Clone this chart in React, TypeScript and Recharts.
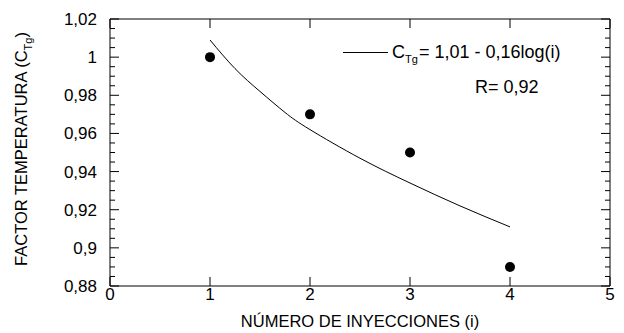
import React from "react";
import {
  ComposedChart,
  Line,
  Scatter,
  XAxis,
  YAxis,
} from "recharts";

// measured points: factor vs number of injections
const injections = [1, 2, 3, 4];
const factor = [1.0, 0.97, 0.95, 0.89];

// fitted curve C_Tg = 1,01 - 0,16 log(i)
const fitX = [1, 1.25, 1.5, 1.75, 2, 2.5, 3, 3.5, 4];
const fitY = [1.009, 0.994, 0.982, 0.971, 0.962, 0.947, 0.934, 0.922, 0.911];

const xTicks = [0, 1, 2, 3, 4, 5];
const yTicks = [
  0.88, 0.885, 0.89, 0.895, 0.9, 0.905, 0.91, 0.915, 0.92, 0.925, 0.93, 0.935,
  0.94, 0.945, 0.95, 0.955, 0.96, 0.965, 0.97, 0.975, 0.98, 0.985, 0.99, 0.995,
  1, 1.005, 1.01, 1.015, 1.02,
];

const FONT = '"Liberation Sans", Arial, sans-serif';
const MAJOR = 9;
const MINOR = 5;

const points = injections.map((x, i) => ({ x, y: factor[i] }));
const fit = fitX.map((x, i) => ({ x, y: fitY[i] }));

const isMajor = (v: number) => Math.round(v * 1000) % 20 === 0;
const fmt = (v: number) => String(v).replace(".", ",");

function LeftTick({ x, y, payload }: any) {
  const v = payload.value;
  const major = isMajor(v);
  return (
    <g>
      <line x1={x} x2={x + (major ? MAJOR : MINOR)} y1={y} y2={y} stroke="#000" />
      {major && (
        <text x={x - 13} y={y + 6} textAnchor="end" fontSize={17} fontFamily={FONT} fill="#000">
          {fmt(v)}
        </text>
      )}
    </g>
  );
}

function RightTick({ x, y, payload }: any) {
  const major = isMajor(payload.value);
  return <line x1={x} x2={x - (major ? MAJOR : MINOR)} y1={y} y2={y} stroke="#000" />;
}

function BottomTick({ x, y, payload }: any) {
  return (
    <g>
      <line x1={x} x2={x} y1={y} y2={y - MAJOR} stroke="#000" />
      <text x={x} y={y + 14} textAnchor="middle" fontSize={17} fontFamily={FONT} fill="#000">
        {payload.value}
      </text>
    </g>
  );
}

function TopTick({ x, y }: any) {
  return <line x1={x} x2={x} y1={y} y2={y + MAJOR} stroke="#000" />;
}

export default function App() {
  return (
    <div style={{ position: "absolute", left: 0, top: 0, width: 624, height: 333, background: "#fff" }}>
      <ComposedChart
        width={624}
        height={333}
        data={fit}
        margin={{ top: 18, right: 13, bottom: 46, left: 109 }}
      >
        <XAxis
          xAxisId="bottom"
          dataKey="x"
          type="number"
          domain={[0, 5]}
          ticks={xTicks}
          interval={0}
          height={1}
          tickSize={0}
          tickMargin={0}
          tickLine={false}
          axisLine={{ stroke: "#000" }}
          tick={<BottomTick />}
        />
        <XAxis
          xAxisId="top"
          orientation="top"
          dataKey="x"
          type="number"
          domain={[0, 5]}
          ticks={xTicks}
          interval={0}
          height={1}
          tickSize={0}
          tickMargin={0}
          tickLine={false}
          axisLine={{ stroke: "#000" }}
          tick={<TopTick />}
        />
        <YAxis
          yAxisId="left"
          type="number"
          domain={[0.88, 1.02]}
          ticks={yTicks}
          interval={0}
          width={1}
          tickSize={0}
          tickMargin={0}
          tickLine={false}
          allowDataOverflow
          axisLine={{ stroke: "#000" }}
          tick={<LeftTick />}
        />
        <YAxis
          yAxisId="right"
          orientation="right"
          type="number"
          domain={[0.88, 1.02]}
          ticks={yTicks}
          interval={0}
          width={1}
          tickSize={0}
          tickMargin={0}
          tickLine={false}
          allowDataOverflow
          axisLine={{ stroke: "#000" }}
          tick={<RightTick />}
        />
        <Line
          xAxisId="bottom"
          yAxisId="left"
          dataKey="y"
          type="natural"
          stroke="#000"
          strokeWidth={1}
          dot={false}
          isAnimationActive={false}
        />
        <Scatter
          xAxisId="bottom"
          yAxisId="left"
          data={points}
          dataKey="y"
          fill="#000"
          shape={(p: any) => <circle cx={p.cx} cy={p.cy} r={5} fill="#000" />}
          isAnimationActive={false}
        />
      </ComposedChart>
      <svg
        width={624}
        height={333}
        style={{ position: "absolute", left: 0, top: 0, pointerEvents: "none" }}
        fontFamily={FONT}
        fill="#000"
      >
        <line x1={343} x2={388} y1={52.5} y2={52.5} stroke="#000" />
        <text x={392} y={58} fontSize={18}>C</text>
        <text x={405} y={63} fontSize={11}>Tg</text>
        <text x={419} y={58} fontSize={18}>= 1,01 - 0,16log(i)</text>
        <text x={475} y={93} fontSize={18}>R= 0,92</text>
        <text x={360} y={327} fontSize={16.5} textAnchor="middle">
          NÚMERO DE INYECCIONES (i)
        </text>
        <text
          transform="translate(27,149) rotate(-90)"
          fontSize={16.5}
          textAnchor="middle"
        >
          FACTOR TEMPERATURA (C
          <tspan fontSize={11} dy={5}>Tg</tspan>
          <tspan dy={-5}>)</tspan>
        </text>
      </svg>
    </div>
  );
}
